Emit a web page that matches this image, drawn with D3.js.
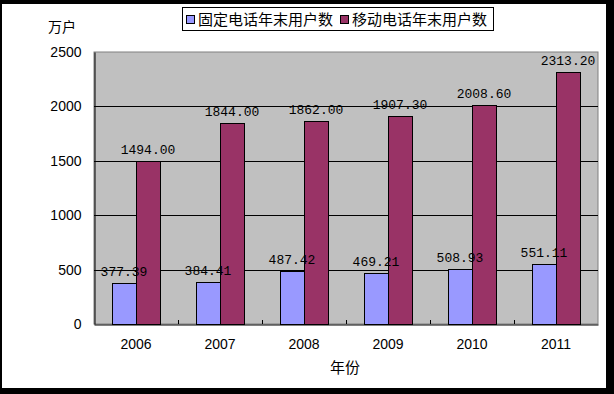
<!DOCTYPE html>
<html>
<head>
<meta charset="utf-8">
<script src="https://cdn.jsdelivr.net/npm/d3@7"></script>
<style>
  body { margin: 0; background: #000; }
  svg { display: block; }
</style>
</head>
<body>
<svg id="chart" width="614" height="394"></svg>
<script>
// data
const years = ["2006", "2007", "2008", "2009", "2010", "2011"];
const seriesNames = ["固定电话年末用户数", "移动电话年末用户数"];
const fixedUsers = [377.39, 384.41, 487.42, 469.21, 508.93, 551.11];
const mobileUsers = [1494.00, 1844.00, 1862.00, 1907.30, 2008.60, 2313.20];
const yTicks = [0, 500, 1000, 1500, 2000, 2500];
const colors = ["#9999FF", "#993366"];

const svg = d3.select("#chart");

// black frame with white chart area
svg.append("rect").attr("width", 614).attr("height", 394).attr("fill", "#000");
svg.append("rect").attr("x", 2).attr("y", 4).attr("width", 604).attr("height", 384).attr("fill", "#fff");

const plot = { left: 94, top: 52, right: 598, bottom: 324 };

const x = d3.scaleBand().domain(years).range([plot.left, plot.right]);
const xInner = d3.scaleBand().domain(seriesNames).range([18, 66]);
const y = d3.scaleLinear().domain([0, 2500]).range([plot.bottom, plot.top]);

// plot background
svg.append("rect")
  .attr("x", plot.left).attr("y", plot.top)
  .attr("width", plot.right - plot.left).attr("height", plot.bottom - plot.top)
  .attr("fill", "#C0C0C0")
  .attr("stroke", "#808080");

// gridlines
svg.append("g")
  .selectAll("line")
  .data(yTicks.filter(d => d > 0 && d < 2500))
  .join("line")
  .attr("x1", plot.left).attr("x2", plot.right)
  .attr("y1", d => Math.round(y(d)) + 0.5).attr("y2", d => Math.round(y(d)) + 0.5)
  .attr("stroke", "#000");

// y axis
const yAxis = d3.axisLeft(y).tickValues(yTicks).tickFormat(d3.format("d")).tickSize(0).tickPadding(13);
const gy = svg.append("g")
  .attr("transform", `translate(${plot.left + 0.5},0)`)
  .call(yAxis);
gy.select(".domain").attr("stroke", "#000");
gy.selectAll("text")
  .attr("font-family", "Liberation Sans, Arial, sans-serif")
  .attr("font-size", 14)
  .attr("fill", "#000");

// bars
const rows = years.map((yr, i) => ({ year: yr, values: [fixedUsers[i], mobileUsers[i]] }));

const groups = svg.append("g")
  .selectAll("g")
  .data(rows)
  .join("g")
  .attr("transform", d => `translate(${x(d.year)},0)`);

groups.selectAll("rect")
  .data(d => d.values.map((v, k) => ({ name: seriesNames[k], value: v, k })))
  .join("rect")
  .attr("x", d => xInner(d.name) + 0.5)
  .attr("y", d => Math.round(y(d.value)) + 0.5)
  .attr("width", xInner.bandwidth())
  .attr("height", d => plot.bottom - Math.round(y(d.value)))
  .attr("fill", d => colors[d.k])
  .attr("stroke", "#000");

// data labels
groups.selectAll("text")
  .data(d => d.values.map((v, k) => ({ name: seriesNames[k], value: v, k })))
  .join("text")
  .attr("x", d => xInner(d.name) + xInner.bandwidth() / 2)
  .attr("y", d => y(d.value) - 7)
  .attr("text-anchor", "middle")
  .attr("font-family", "Liberation Mono, monospace")
  .attr("font-size", 13)
  .attr("fill", "#000")
  .text(d => d.value.toFixed(2));

// x axis
const xAxis = d3.axisBottom(x).tickSize(0).tickPadding(15);
const gx = svg.append("g")
  .attr("transform", `translate(0,${plot.bottom + 0.5})`)
  .call(xAxis);
gx.select(".domain").attr("stroke", "#000");
gx.selectAll("text")
  .attr("font-family", "Liberation Sans, Arial, sans-serif")
  .attr("font-size", 14)
  .attr("fill", "#000");

// inward tick marks at category boundaries
svg.append("g")
  .selectAll("line")
  .data(years.slice(1))
  .join("line")
  .attr("x1", d => x(d) + 0.5).attr("x2", d => x(d) + 0.5)
  .attr("y1", plot.bottom - 4).attr("y2", plot.bottom)
  .attr("stroke", "#000");

// axis titles
svg.append("text")
  .attr("x", 62).attr("y", 32)
  .attr("text-anchor", "middle")
  .attr("font-family", "Noto Sans CJK SC, sans-serif")
  .attr("font-size", 14)
  .text("万户");

svg.append("text")
  .attr("x", 345).attr("y", 373)
  .attr("text-anchor", "middle")
  .attr("font-family", "Noto Sans CJK SC, sans-serif")
  .attr("font-size", 15)
  .text("年份");

// legend
const legend = svg.append("g").attr("transform", "translate(182,7)");
legend.append("rect")
  .attr("x", 0.5).attr("y", 0.5).attr("width", 311).attr("height", 23)
  .attr("fill", "#fff").attr("stroke", "#000");

const items = legend.selectAll("g.item")
  .data(seriesNames)
  .join("g")
  .attr("class", "item")
  .attr("transform", (d, i) => `translate(${4 + i * 154},0)`);

items.append("rect")
  .attr("x", 0.5).attr("y", 8.5).attr("width", 8).attr("height", 8)
  .attr("fill", (d, i) => colors[i]).attr("stroke", "#000");

items.append("text")
  .attr("x", 12).attr("y", 18)
  .attr("font-family", "Noto Sans CJK SC, sans-serif")
  .attr("font-size", 15)
  .text(d => d);
</script>
</body>
</html>
